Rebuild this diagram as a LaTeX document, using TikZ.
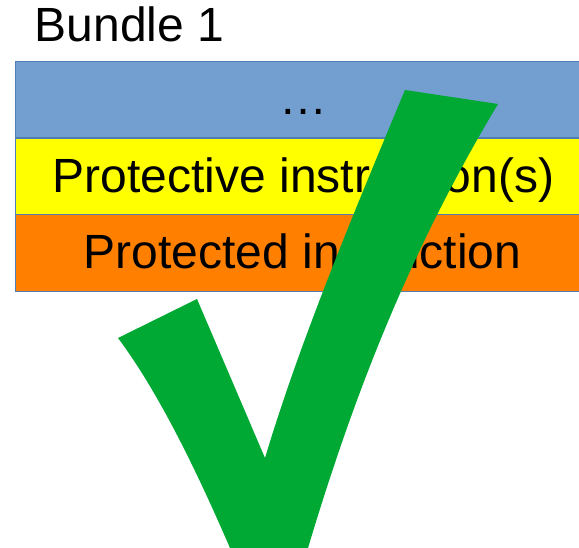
\documentclass[tikz,border=0pt]{standalone}
\usepackage{fontspec}
\setmainfont{Liberation Sans}
\definecolor{layerblue}{HTML}{729FCF}
\definecolor{layeryellow}{HTML}{FFFF00}
\definecolor{layerorange}{HTML}{FF8000}
\definecolor{layerline}{HTML}{4F7DB5}
\definecolor{checkgreen}{HTML}{00A933}
\begin{document}
\begin{tikzpicture}[x=0.75pt,y=-0.75pt,
  layer/.style={draw=layerline,line width=0.75pt,rectangle,inner sep=0pt,
    minimum width=432pt,minimum height=57.5pt},
  big/.style={inner sep=0pt,anchor=base,font=\fontsize{36}{40}\selectfont},
  title/.style={inner sep=0pt,anchor=base west,font=\fontsize{36}{40}\selectfont}]
\useasboundingbox (0,0) rectangle (579,548);

% stacked layers of the bundle
\node[layer,fill=layerblue]   (top)  at (303,99.5)  {};
\node[layer,fill=layeryellow] (mid)  at (303,176.5) {};
\node[layer,fill=layerorange] (bot)  at (303,253)   {};

\node[title] (caption) at (34.5,42) {Bundle 1};
\node[big] (dots)     at (303,114.5) {…};
\node[big] (guard)    at (303.5,192.7) {Protective instruction(s)};
\node[big] (guarded)  at (302.5,268.3) {Protected instruction};

% check mark drawn over the stack
\fill[checkgreen]
  (405,90) -- (498,104)
  .. controls (408,254) and (353,398) .. (308,548)
  -- (230,548)
  .. controls (204,488) and (163,398) .. (118,338)
  -- (197,299)
  -- (265,458)
  .. controls (301,338) and (355,210) .. (405,90)
  -- cycle;
\end{tikzpicture}
\end{document}
